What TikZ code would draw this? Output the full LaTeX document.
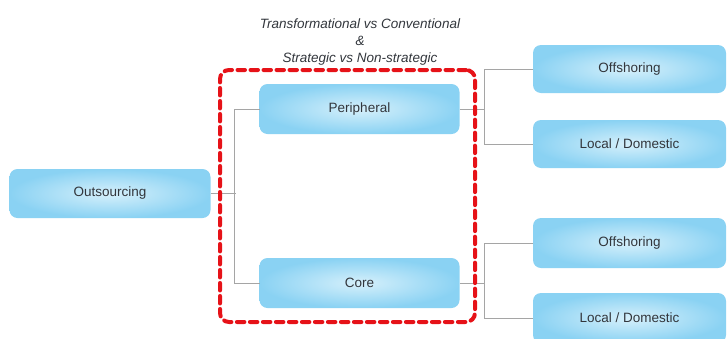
\documentclass[tikz,border=0pt]{standalone}
\usepackage{fontspec}
\setmainfont{Liberation Sans}
\usepackage{tikz}
\usetikzlibrary{positioning, calc}

\definecolor{boxin}{RGB}{214,240,251}
\definecolor{boxout}{RGB}{138,210,243}
\definecolor{boxtext}{RGB}{50,54,60}
\definecolor{linkgray}{RGB}{165,165,165}
\definecolor{focusred}{RGB}{230,18,24}

\begin{document}
\begin{tikzpicture}[x=1pt, y=-1pt,
        box/.style={rectangle, rounded corners=8pt, inner color=boxin, outer color=boxout, minimum width=200pt, minimum height=50pt, outer sep=0pt, text=boxtext, font=\fontsize{13.5}{16}\selectfont},
        leaf/.style={box, minimum width=193pt},
        link/.style={draw=linkgray, line width=1pt},
        frame/.style={rectangle, draw=focusred, line width=4pt, rounded corners=9pt, dash pattern=on 7.5pt off 5.5pt, line cap=round, minimum width=255pt, minimum height=252pt},
        caption/.style={align=center, text=boxtext, font=\fontsize{13.5}{17}\selectfont\itshape}%
    ]
        \clip (0,0) rectangle (728,338);

        \node[box, minimum width=201pt, minimum height=49pt] (outsrc) at (110,193.5) {Outsourcing};
        \node[box] (periph) at (359.5,109) {Peripheral};
        \node[box] (core) at (359.5,283) {Core};

        \node[leaf, minimum height=48pt] (offTop) at (629.5,69) {Offshoring};
        \node[leaf, minimum height=48pt] (localTop) at (629.5,144) {Local / Domestic};
        \node[leaf] (offBot) at (629.5,243) {Offshoring};
        \node[leaf] (localBot) at (629.5,318) {Local / Domestic};

        % split after the first level
        \draw[link] (periph.west) -- ++(-25,0) |- (core.west);
        \draw[link] (outsrc.east) -- ++(25,0);

        % split after the second level
        \draw[link] (offTop.west) -- ++(-49,0) |- (localTop.west);
        \draw[link] (periph.east) -- ++(24.5,0);
        \draw[link] (offBot.west) -- ++(-49,0) |- (localBot.west);
        \draw[link] (core.east) -- ++(24.5,0);

        \node[frame] (focus) at (347.5,196) {};
        \node[caption] (title) at (360,42.5) {Transformational vs Conventional\\\&\\Strategic vs Non-strategic};
    \end{tikzpicture}
\end{document}
